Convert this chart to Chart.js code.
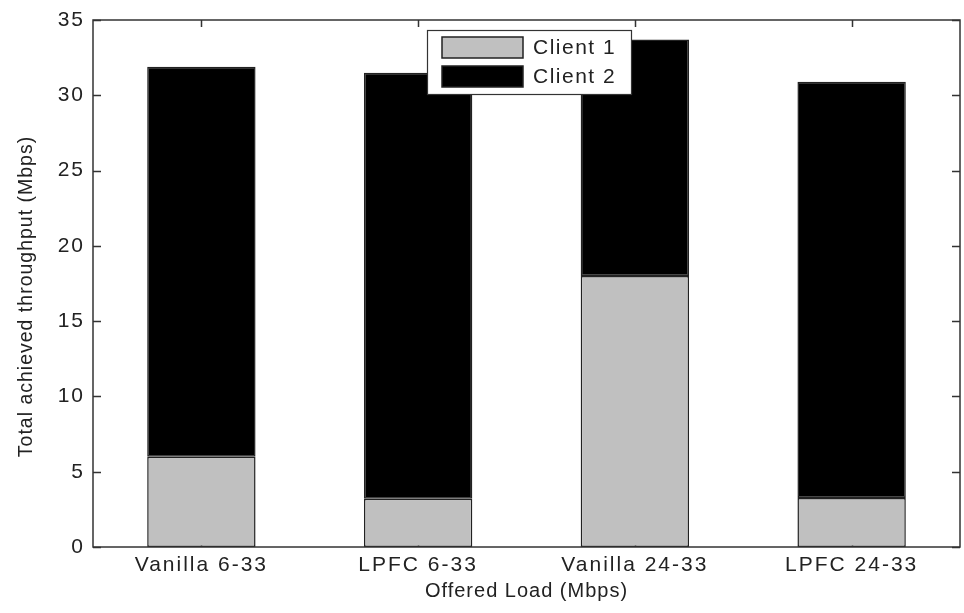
<!DOCTYPE html>
<html>
<head>
<meta charset="utf-8">
<script src="https://cdn.jsdelivr.net/npm/chart.js@4.4.1/dist/chart.umd.min.js"></script>
<style>
  html, body { margin: 0; padding: 0; background: #fff; }
  canvas { display: block; }
</style>
</head>
<body>
<canvas id="myChart" width="964" height="613"></canvas>
<script>
// data
const categories = ['Vanilla 6-33', 'LPFC 6-33', 'Vanilla 24-33', 'LPFC 24-33'];
const client1 = [6.0, 3.2, 18.0, 3.25];
const client2 = [25.9, 28.3, 15.7, 27.65];
const seriesNames = ['Client 1', 'Client 2'];
const yMin = 0, yMax = 35, yStep = 5;

const FONT = "'Liberation Sans', Arial, sans-serif";
const INK = '#222';
const TICK_SPACING = '2px', TITLE_SPACING = '1px';

// titles get tighter spacing than tick labels; y title sits a bit lower
function patchTitles(chart) {
  Object.values(chart.scales).forEach(s => {
    if (s._patched) return;
    const orig = s.drawTitle.bind(s);
    s.drawTitle = function () {
      const c = chart.ctx;
      c.save();
      c.letterSpacing = TITLE_SPACING;
      if (s.axis === 'y') c.translate(0, 13);
      orig();
      c.restore();
    };
    s._patched = true;
  });
}

// matlab style box with inward ticks
const framePlugin = {
  id: 'frame',
  beforeInit(chart) { chart.ctx.letterSpacing = TICK_SPACING; },
  beforeDraw(chart) {
    chart.ctx.letterSpacing = TICK_SPACING;
    patchTitles(chart);
  },
  beforeDatasetsDraw(chart) {
    const ctx = chart.ctx, a = chart.chartArea;
    const xs = chart.scales.x, ys = chart.scales.y;
    ctx.save();
    ctx.strokeStyle = '#333';
    ctx.lineWidth = 1.5;
    ctx.beginPath();
    for (let v = yMin; v <= yMax; v += yStep) {
      const py = Math.round(ys.getPixelForValue(v)) + 0.5;
      ctx.moveTo(a.left, py); ctx.lineTo(a.left + 8, py);
      ctx.moveTo(a.right, py); ctx.lineTo(a.right - 8, py);
    }
    categories.forEach((c, i) => {
      const px = Math.round(xs.getPixelForValue(i)) + 0.5;
      ctx.moveTo(px, a.top); ctx.lineTo(px, a.top + 7);
      ctx.moveTo(px, a.bottom); ctx.lineTo(px, a.bottom - 7);
    });
    ctx.stroke();
    ctx.restore();
  },
  afterDraw(chart) {
    const ctx = chart.ctx, a = chart.chartArea;
    ctx.save();
    ctx.strokeStyle = '#333';
    ctx.lineWidth = 1.5;
    ctx.strokeRect(a.left, a.top, a.right - a.left, a.bottom - a.top);

    // legend box
    const lx = 427, ly = 30, lw = 204, lh = 64;
    ctx.fillStyle = '#fff';
    ctx.fillRect(lx, ly, lw, lh);
    ctx.lineWidth = 1.2;
    ctx.strokeRect(lx + 0.5, ly + 0.5, lw, lh);
    ctx.font = '21px ' + FONT;
    ctx.letterSpacing = '1.5px';
    ctx.textBaseline = 'middle';
    ctx.textAlign = 'left';
    chart.data.datasets.forEach((ds, i) => {
      const sy = 37 + i * 29;
      ctx.fillStyle = ds.backgroundColor;
      ctx.fillRect(442, sy, 81, 21);
      ctx.strokeStyle = '#222';
      ctx.lineWidth = 1.5;
      ctx.strokeRect(442, sy, 81, 21);
      ctx.fillStyle = INK;
      ctx.fillText(ds.label, 533, sy + 11);
    });
    ctx.restore();
  }
};

const ctx = document.getElementById('myChart').getContext('2d');
new Chart(ctx, {
  type: 'bar',
  data: {
    labels: categories,
    datasets: [
      {
        label: seriesNames[0],
        data: client1,
        backgroundColor: '#c0c0c0',
        borderColor: '#222',
        borderWidth: 1.5,
        borderSkipped: false,
        categoryPercentage: 1,
        barPercentage: 0.5
      },
      {
        label: seriesNames[1],
        data: client2,
        backgroundColor: '#000000',
        borderColor: '#222',
        borderWidth: 1.5,
        borderSkipped: false,
        categoryPercentage: 1,
        barPercentage: 0.5
      }
    ]
  },
  plugins: [framePlugin],
  options: {
    responsive: false,
    animation: false,
    events: [],
    layout: { padding: { top: 20, right: 4, left: 0, bottom: 0 } },
    plugins: {
      legend: { display: false },
      tooltip: { enabled: false }
    },
    scales: {
      x: {
        stacked: true,
        grid: { display: false },
        border: { display: false },
        ticks: {
          color: INK,
          padding: -2,
          maxRotation: 0,
          font: { family: FONT, size: 21 }
        },
        title: {
          display: true,
          text: 'Offered Load (Mbps)',
          color: INK,
          font: { family: FONT, size: 20 },
          padding: { top: 0, bottom: 10 }
        },
        afterFit(scale) { scale.height = 66; }
      },
      y: {
        stacked: true,
        min: yMin,
        max: yMax,
        grid: { display: false },
        border: { display: false },
        ticks: {
          stepSize: yStep,
          color: INK,
          padding: 0,
          font: { family: FONT, size: 21 }
        },
        title: {
          display: true,
          text: 'Total achieved throughput (Mbps)',
          color: INK,
          font: { family: FONT, size: 19.5 },
          padding: { top: 15, bottom: 0 }
        },
        afterFit(scale) { scale.width = 93; }
      }
    }
  }
});
</script>
</body>
</html>
